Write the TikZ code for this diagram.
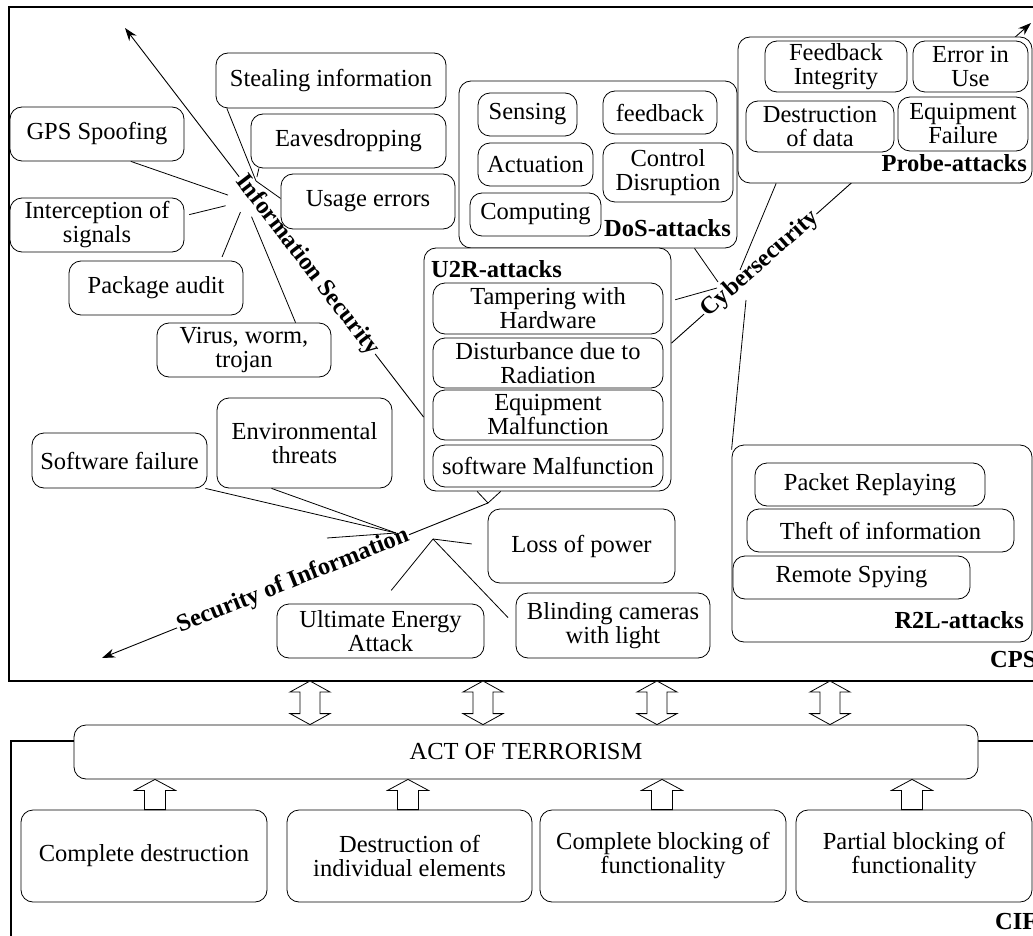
\documentclass[tikz,border=0pt]{standalone}
\usepackage{fontspec}
\setmainfont{Liberation Serif}
\usetikzlibrary{arrows.meta,calc}
\pgfdeclarelayer{background}
\pgfsetlayers{background,main}

\newcommand{\fatup}[3]{%
  \draw[fat] let \p1=($(#1.north)+(#3,0)$), \p2=(#2.south) in
    (\x1-10.5pt,\y1) -- (\x1-10.5pt,\y2-11pt) -- (\x1-20.5pt,\y2-11pt) -- (\x1,\y2)
    -- (\x1+20.5pt,\y2-11pt) -- (\x1+10.5pt,\y2-11pt) -- (\x1+10.5pt,\y1) -- cycle;}
\newcommand{\fatboth}[1]{%
  \draw[fat] let \p1=(#1 |- cps.south), \p2=(#1 |- act.north) in
    (\x1,\y1) -- (\x1+20pt,\y1-11pt) -- (\x1+10pt,\y1-11pt) -- (\x1+10pt,\y2+11pt)
    -- (\x1+20pt,\y2+11pt) -- (\x1,\y2) -- (\x1-20pt,\y2+11pt) -- (\x1-10pt,\y2+11pt)
    -- (\x1-10pt,\y1-11pt) -- (\x1-20pt,\y1-11pt) -- cycle;}

\begin{document}
\begin{tikzpicture}[x=1pt,y=-1pt,
    every node/.style={font=\fontsize{24.5}{24}\selectfont},
    box/.style={draw,line width=0.8pt,rounded corners=12pt,fill=white,align=center,inner sep=0pt},
    sz/.style 2 args={minimum width=#1pt,minimum height=#2pt},
    frame/.style={draw,line width=1.2pt,inner sep=0pt,outer sep=0pt},
    tag/.style={font=\fontsize{24.5}{24}\selectfont\bfseries,inner sep=0pt},
    link/.style={line width=0.8pt},
    axis/.style={line width=0.9pt,-{Stealth[length=13pt,width=9pt]}},
    axistext/.style={font=\fontsize{24.5}{24}\selectfont\bfseries,sloped,fill=white,inner sep=1pt},
    fat/.style={draw,line width=0.8pt,fill=white}]
    \useasboundingbox (0,0) rectangle (1033,936);
    \clip (0,0) rectangle (1033,936);

    \node[frame,minimum width=1041pt,minimum height=674pt] (cps) at (529.5,344) {};
    \node[frame,minimum width=1039pt,minimum height=219pt] (cif) at (530.5,850.5) {};
    \node[tag,anchor=west] (cpstag) at (990,660) {CPS};
    \node[tag,anchor=west] (ciftag) at (995,921) {CIF};

    % information security
    \node[box,sz={230}{55}] (steal) at (331,80.5) {Stealing information};
    \node[box,sz={174}{54}] (gps) at (97,134) {GPS Spoofing};
    \node[box,sz={195}{54}] (eaves) at (348.5,141) {Eavesdropping};
    \node[box,sz={174}{55}] (usage) at (368,201.5) {Usage errors};
    \node[box,sz={174}{54}] (intercept) at (97,225) {Interception of\\signals};
    \node[box,sz={174}{54}] (audit) at (156,288) {Package audit};
    \node[box,sz={174}{54}] (virus) at (244,350) {Virus, worm,\\trojan};

    % DoS
    \node[box,sz={278}{167}] (dos) at (598,164.5) {};
    \node[box,sz={99}{43}] (sensing) at (527.5,114.5) {Sensing};
    \node[box,sz={114}{43}] (feedback) at (660,112.5) {feedback};
    \node[box,sz={115}{43}] (actuation) at (535.5,164.5) {Actuation};
    \node[box,sz={130}{59}] (control) at (668,172.5) {Control\\Disruption};
    \node[box,sz={131}{43}] (computing) at (535.5,214.5) {Computing};
    \node[tag,anchor=east] (dostag) at (731,228) {DoS-attacks};

    % Probe
    \node[box,sz={294}{146}] (probe) at (885,110) {};
    \node[box,sz={142}{51}] (fbint) at (836,66.5) {Feedback\\Integrity};
    \node[box,sz={115}{51}] (erruse) at (970.5,66.5) {Error in\\Use};
    \node[box,sz={148}{51}] (destdata) at (820,126.5) {Destruction\\of data};
    \node[box,sz={130}{54}] (eqfail) at (963,124) {Equipment\\Failure};
    \node[tag,anchor=east] (probetag) at (1027,163) {Probe-attacks};

    % U2R
    \node[box,sz={247}{243}] (u2r) at (547.5,369.5) {};
    \node[tag,anchor=west] (u2rtag) at (431,269) {U2R-attacks};
    \node[box,sz={230}{51}] (tamper) at (548,308.5) {Tampering with\\Hardware};
    \node[box,sz={230}{50}] (disturb) at (548,363) {Disturbance due to\\Radiation};
    \node[box,sz={230}{50}] (eqmal) at (548,415) {Equipment\\Malfunction};
    \node[box,sz={230}{42}] (swmal) at (548,466) {software Malfunction};

    % security of information
    \node[box,sz={175}{55}] (swfail) at (119.5,460.5) {Software failure};
    \node[box,sz={175}{90}] (envthr) at (304.5,443) {Environmental\\threats};
    \node[box,sz={187}{74}] (power) at (581.5,546) {Loss of power};
    \node[box,sz={194}{65}] (blind) at (613,625.5) {Blinding cameras\\with light};
    \node[box,sz={207}{54}] (energy) at (380.5,631) {Ultimate Energy\\Attack};

    % R2L
    \node[box,sz={300}{197}] (r2l) at (882,543.5) {};
    \node[box,sz={230}{43}] (replay) at (870,484.5) {Packet Replaying};
    \node[box,sz={267}{43}] (theft) at (880.5,530.5) {Theft of information};
    \node[box,sz={237}{43}] (spying) at (851.5,577.5) {Remote Spying};
    \node[tag,anchor=east] (r2ltag) at (1024,620) {R2L-attacks};

    % CIF
    \node[box,sz={904}{54}] (act) at (526,752) {ACT OF TERRORISM};
    \node[box,sz={246}{92}] (cd) at (144,856) {Complete destruction};
    \node[box,sz={245}{92}] (die) at (409.5,856) {Destruction of\\individual elements};
    \node[box,sz={246}{92}] (cbf) at (663,856) {Complete blocking of\\functionality};
    \node[box,sz={236}{92}] (pbf) at (914,856) {Partial blocking of\\functionality};

    \coordinate (istip) at (125,28);
    \coordinate (cstip) at (1031,23);
    \coordinate (sihub) at (488,503);
    \coordinate (sitip) at (102,658);
    \begin{pgfonlayer}{background}
    \draw[axis] (u2r.201) -- node[axistext,pos=0.39] {Information Security} (istip);
    \draw[axis] (u2r.12.6) -- node[axistext,pos=0.247] {Cybersecurity} (cstip);
    \draw[axis] (sihub) -- node[axistext,pos=0.505] {Security of Information} (sitip);
    \end{pgfonlayer}

    \coordinate (ishub) at (245,201);
    \coordinate (ishubtop) at (256,181);
    \draw[link] (steal.195) -- (ishubtop);
    \draw[link,shorten >=4pt] (eaves.197) -- (ishubtop);
    \draw[link] (usage.178) -- (ishubtop);
    \draw[link,shorten >=18pt] (gps.-39) -- (ishub);
    \draw[link,shorten <=5pt,shorten >=20pt] (intercept.6) -- (ishub);
    \draw[link,shorten <=4pt,shorten >=12pt] (audit.23) -- (ishub);
    \draw[link,shorten >=17pt] (virus.28) -- (ishub);

    \coordinate (csdos) at (718,282);
    \coordinate (cstamper) at (717,288);
    \coordinate (csprobe) at (740,270);
    \coordinate (csr2l) at (746,300);
    \draw[link] (dos.-41) -- (csdos);
    \draw[link,shorten <=4pt] (u2r.29) -- (cstamper);
    \draw[link] (probe.214) -- (csprobe);
    \draw[link] (r2l.148) -- (csr2l);

    \coordinate (silhub) at (396,533);
    \coordinate (sistray) at (327,538);
    \coordinate (sirhub) at (433,539);
    \draw[link] (u2r.240) -- (sihub);
    \draw[link] (u2r.249.5) -- (sihub);
    \draw[link] (swfail.-18) -- (silhub);
    \draw[link] (envthr.234) -- (silhub);
    \draw[link] (sistray) -- (silhub);
    \draw[link,shorten <=17pt] (energy.north) -- (sirhub);
    \draw[link,shorten <=16pt] (power.west) -- (sirhub);
    \draw[link,shorten <=11pt] (blind.west) -- (sirhub);

    \fatup{cd}{act}{11}
    \fatup{die}{act}{-1.5}
    \fatup{cbf}{act}{-1}
    \fatup{pbf}{act}{-2}
    \coordinate (dbl1) at (310,700);
    \coordinate (dbl2) at (483,700);
    \coordinate (dbl3) at (657,700);
    \coordinate (dbl4) at (830,700);
    \fatboth{dbl1}
    \fatboth{dbl2}
    \fatboth{dbl3}
    \fatboth{dbl4}
\end{tikzpicture}
\end{document}
